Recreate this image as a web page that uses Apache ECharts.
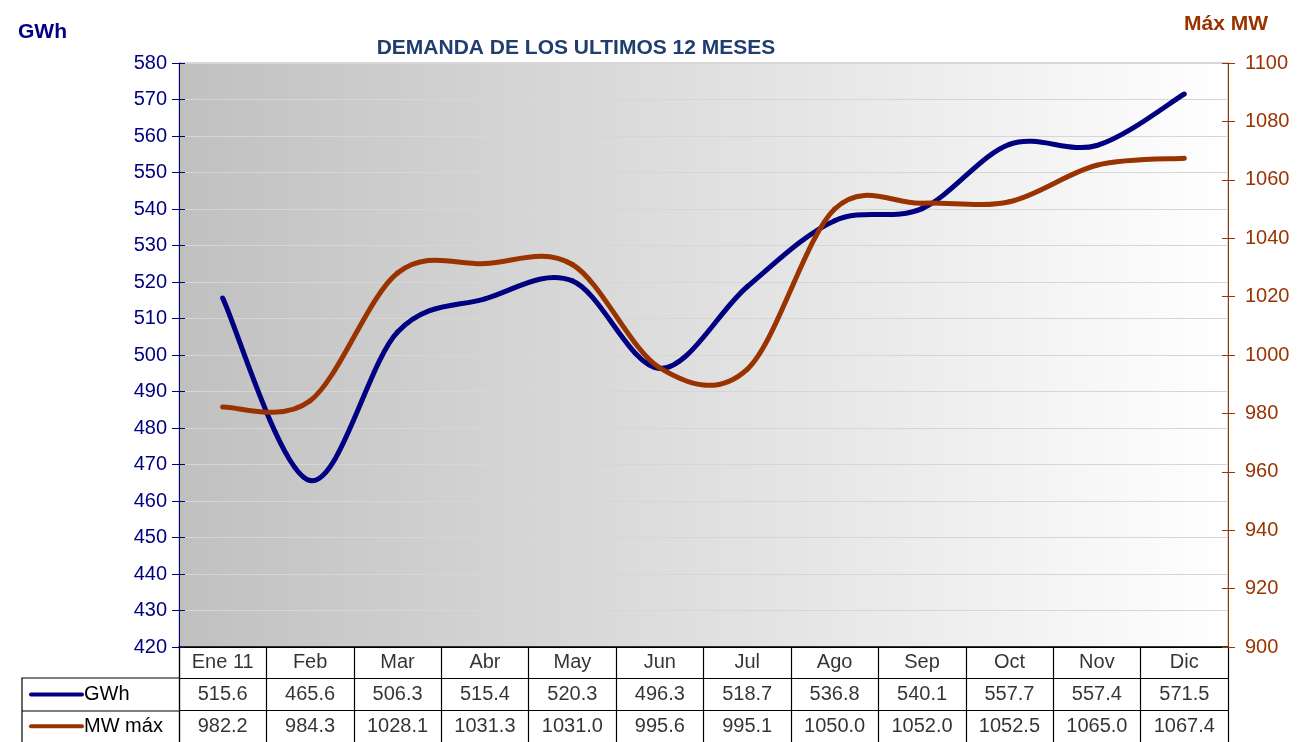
<!DOCTYPE html>
<html>
<head>
<meta charset="utf-8">
<script src="https://cdn.jsdelivr.net/npm/echarts@6/dist/echarts.min.js"></script>
<style>
  html, body { margin: 0; padding: 0; background: #fff; }
  #chart { width: 1298px; height: 742px; }
</style>
</head>
<body>
<div id="chart"></div>
<script>
var months = ['Ene 11', 'Feb', 'Mar', 'Abr', 'May', 'Jun', 'Jul', 'Ago', 'Sep', 'Oct', 'Nov', 'Dic'];
var gwh = [515.6, 465.6, 506.3, 515.4, 520.3, 496.3, 518.7, 536.8, 540.1, 557.7, 557.4, 571.5];
var mwMax = [982.2, 984.3, 1028.1, 1031.3, 1031.0, 995.6, 995.1, 1050.0, 1052.0, 1052.5, 1065.0, 1067.4];
var rows = ['cat', 'GWh', 'MW máx'];

var NAVY = '#000080', BROWN = '#993300';
var FONT = '"Liberation Sans", Arial, sans-serif';

// celdas de la tabla de datos
var cells = [];
months.forEach(function (m, i) {
    cells.push([i, 0, m]);
    cells.push([i, 1, gwh[i].toFixed(1)]);
    cells.push([i, 2, mwMax[i].toFixed(1)]);
});

// curva suavizada tipo Excel (Catmull-Rom), un tramo por punto
function curve(name, values, color, yIdx) {
    var n = values.length;
    return {
        name: name, type: 'custom', xAxisIndex: 0, yAxisIndex: yIdx,
        data: values.map(function (v, i) { return [i, v]; }),
        encode: { x: 0, y: 1 },
        renderItem: function (params, api) {
            var i = params.dataIndex;
            if (i >= n - 1) return null;
            var pt = function (k) {
                k = Math.max(0, Math.min(n - 1, k));
                return api.coord([k, values[k]]);
            };
            var p0 = pt(i - 1), p1 = pt(i), p2 = pt(i + 1), p3 = pt(i + 2);
            return {
                type: 'bezierCurve',
                shape: {
                    x1: p1[0], y1: p1[1], x2: p2[0], y2: p2[1],
                    cpx1: p1[0] + (p2[0] - p0[0]) / 6, cpy1: p1[1] + (p2[1] - p0[1]) / 6,
                    cpx2: p2[0] - (p3[0] - p1[0]) / 6, cpy2: p2[1] - (p3[1] - p1[1]) / 6
                },
                style: { stroke: color, lineWidth: 5, fill: null, lineCap: 'round' }
            };
        }
    };
}

// eje auxiliar solo para que las marcas crucen la línea del eje
function innerTicks(min, max, step, pos, color) {
    return { type: 'value', gridIndex: 0, min: min, max: max, interval: step, position: pos,
        axisLine: { show: false }, axisLabel: { show: false }, splitLine: { show: false },
        axisTick: { show: true, inside: true, length: 6, lineStyle: { color: color } } };
}

var myChart = echarts.init(document.getElementById('chart'));
var option = {
    animation: false,
    textStyle: { fontFamily: FONT },
    title: [
        { text: 'DEMANDA DE LOS ULTIMOS 12 MESES', left: 571, top: 33, textAlign: 'center',
          textStyle: { color: '#1F3D6E', fontSize: 21, fontWeight: 'bold', fontFamily: FONT } },
        { text: 'GWh', left: 13, top: 17,
          textStyle: { color: NAVY, fontSize: 21, fontWeight: 'bold', fontFamily: FONT } },
        { text: 'Máx MW', left: 1179, top: 9,
          textStyle: { color: BROWN, fontSize: 21, fontWeight: 'bold', fontFamily: FONT } }
    ],
    grid: [
        { left: 179, right: 70, top: 63, bottom: 95, show: true, borderColor: '#b0b0b0', borderWidth: 1,
          backgroundColor: { type: 'linear', x: 0, y: 0, x2: 1, y2: 0,
              colorStops: [{ offset: 0, color: '#c0c0c0' }, { offset: 1, color: '#ffffff' }] } },
        { left: 179, right: 70, top: 647, height: 97 }
    ],
    xAxis: [
        { type: 'category', gridIndex: 0, data: months, boundaryGap: true,
          axisLine: { show: false }, axisTick: { show: false }, axisLabel: { show: false } },
        { type: 'category', gridIndex: 1, data: months, position: 'top', boundaryGap: true,
          axisLine: { show: true, lineStyle: { color: '#000', width: 1.5 } },
          axisTick: { show: false }, axisLabel: { show: false },
          splitLine: { show: true, lineStyle: { color: '#000', width: 1.2 } } }
    ],
    yAxis: [
        { type: 'value', gridIndex: 0, min: 420, max: 580, interval: 10,
          axisLine: { show: true, lineStyle: { color: NAVY } },
          axisTick: { show: true, length: 7, lineStyle: { color: NAVY } },
          axisLabel: { color: NAVY, fontSize: 20, margin: 12, fontFamily: FONT },
          splitLine: { show: true, lineStyle: { color: '#d6d6d6' } } },
        { type: 'value', gridIndex: 0, min: 900, max: 1100, interval: 20, position: 'right',
          axisLine: { show: true, lineStyle: { color: BROWN } },
          axisTick: { show: true, length: 7, lineStyle: { color: BROWN } },
          axisLabel: { color: BROWN, fontSize: 20, margin: 17, fontFamily: FONT,
              formatter: function (v) { return String(v); } },
          splitLine: { show: false } },
        { type: 'category', gridIndex: 1, data: rows, inverse: true, boundaryGap: true,
          axisLine: { show: true, lineStyle: { color: '#000', width: 1.2 } },
          axisTick: { show: false },
          axisLabel: { show: true, align: 'left', margin: 150, fontSize: 20, color: '#000', fontFamily: FONT,
              formatter: function (v) {
                  if (v === 'GWh') return '{g|}' + v;
                  if (v === 'MW máx') return '{m|}' + v;
                  return '';
              },
              rich: {
                  g: { width: 55, height: 4, backgroundColor: NAVY, borderRadius: 2 },
                  m: { width: 55, height: 4, backgroundColor: BROWN, borderRadius: 2 }
              } },
          splitLine: { show: true, lineStyle: { color: '#000', width: 1.2 } } },
        innerTicks(420, 580, 10, 'left', NAVY),
        innerTicks(900, 1100, 20, 'right', BROWN)
    ],
    graphic: [
        { type: 'polyline', silent: true, shape: { points: [[179, 678], [22, 678], [22, 745]] },
          style: { stroke: '#000', lineWidth: 1.2, fill: null } },
        { type: 'line', silent: true, shape: { x1: 22, y1: 711, x2: 179, y2: 711 },
          style: { stroke: '#000', lineWidth: 1.2 } }
    ],
    series: [
        curve('GWh', gwh, NAVY, 0),
        curve('MW máx', mwMax, BROWN, 1),
        { type: 'scatter', xAxisIndex: 1, yAxisIndex: 2, data: cells, symbolSize: 1,
          itemStyle: { color: 'rgba(0,0,0,0)' },
          label: { show: true, position: 'inside', color: '#000', textBorderWidth: 0, fontSize: 20, fontFamily: FONT,
              formatter: function (p) { return p.data[2]; } } }
    ]
};
myChart.setOption(option, true);
window.addEventListener('resize', function () { myChart.resize(); });
</script>
</body>
</html>
